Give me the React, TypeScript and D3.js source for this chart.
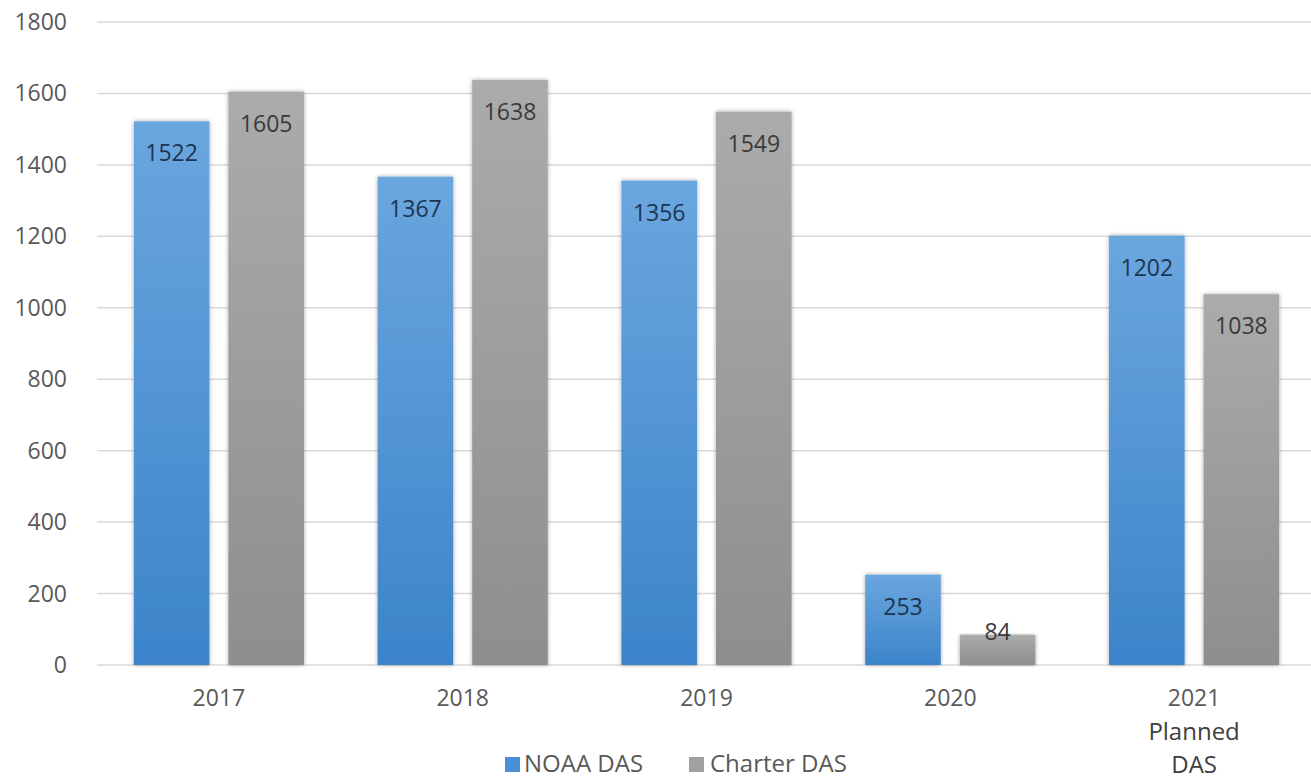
import React from "react";
import * as d3 from "d3";

const categories = ["2017", "2018", "2019", "2020", "2021"];
const noaaDas = [1522, 1367, 1356, 253, 1202];
const charterDas = [1605, 1638, 1549, 84, 1038];
const yTicks = [0, 200, 400, 600, 800, 1000, 1200, 1400, 1600, 1800];
const seriesNames = ["NOAA DAS", "Charter DAS"];

const W = 1311;
const H = 781;
const left = 97;
const right = 1316;
const top = 22;
const bottom = 665;

export default function App() {
  const x = d3.scaleBand<string>().domain(categories).range([left, right]).paddingInner(0).paddingOuter(0);
  const y = d3.scaleLinear().domain([0, 1800]).range([bottom, top]);
  const bw = x.bandwidth();
  const barW = bw * 0.31;
  const gap = bw * 0.078;
  const font = "'Open Sans', 'Liberation Sans', sans-serif";

  const series = [
    { name: seriesNames[0], values: noaaDas, fill: "url(#gBlue)", sw: "#4a90d6", label: "#1d3550" },
    { name: seriesNames[1], values: charterDas, fill: "url(#gGray)", sw: "#a0a0a0", label: "#3a3a3a" },
  ];

  return (
    <svg width={W} height={H} style={{ position: "absolute", left: 0, top: 0, background: "#fff" }}>
      <defs>
        <linearGradient id="gBlue" x1="0" y1="0" x2="0" y2="1">
          <stop offset="0" stopColor="#6aa6de" />
          <stop offset="1" stopColor="#3c84ca" />
        </linearGradient>
        <linearGradient id="gGray" x1="0" y1="0" x2="0" y2="1">
          <stop offset="0" stopColor="#ababab" />
          <stop offset="1" stopColor="#8e8e8e" />
        </linearGradient>
        <filter id="sh" x="-10%" y="-5%" width="120%" height="110%">
          <feGaussianBlur in="SourceAlpha" stdDeviation="2" />
          <feOffset dx="0" dy="0" result="b" />
          <feComponentTransfer><feFuncA type="linear" slope="0.35" /></feComponentTransfer>
          <feMerge><feMergeNode /><feMergeNode in="SourceGraphic" /></feMerge>
        </filter>
      </defs>
      {yTicks.map((t) => (
        <g key={t}>
          <line x1={left} x2={W} y1={y(t)} y2={y(t)} stroke="#d9d9d9" strokeWidth={1.5} />
          <text x={67} y={y(t)} dy="0.35em" textAnchor="end" fontFamily={font} fontSize={23} fill="#595959">{t}</text>
        </g>
      ))}
      {categories.map((c, i) => {
        const cx = (x(c) as number) + bw / 2;
        return (
          <g key={c}>
            {series.map((s, j) => {
              const v = s.values[i];
              const bx = j === 0 ? cx - gap / 2 - barW : cx + gap / 2;
              const by = y(v);
              const h = bottom - by;
              const ly = h < 50 ? by - 3 : by + 32;
              return (
                <g key={s.name}>
                  <rect x={bx} y={by} width={barW} height={h} fill={s.fill} filter="url(#sh)" />
                  <text x={bx + barW / 2} y={ly} dy="0.35em" textAnchor="middle" fontFamily={font} fontSize={23} fill={s.label}>{v}</text>
                </g>
              );
            })}
            <text x={cx} y={698} dy="0.35em" textAnchor="middle" fontFamily={font} fontSize={23} fill="#595959">{c}</text>
          </g>
        );
      })}
      <text x={(x("2021") as number) + bw / 2} y={731.5} dy="0.35em" textAnchor="middle" fontFamily={font} fontSize={24} fill="#404040">Planned</text>
      <text x={(x("2021") as number) + bw / 2} y={764.5} dy="0.35em" textAnchor="middle" fontFamily={font} fontSize={24} fill="#404040">DAS</text>
      <g>
        <rect x={505} y={757} width={15} height={15} fill={series[0].sw} />
        <text x={524} y={764} dy="0.35em" fontFamily={font} fontSize={24} fill="#595959">{seriesNames[0]}</text>
        <rect x={689} y={757} width={15} height={15} fill={series[1].sw} />
        <text x={710} y={764} dy="0.35em" fontFamily={font} fontSize={24} fill="#595959">{seriesNames[1]}</text>
      </g>
    </svg>
  );
}
